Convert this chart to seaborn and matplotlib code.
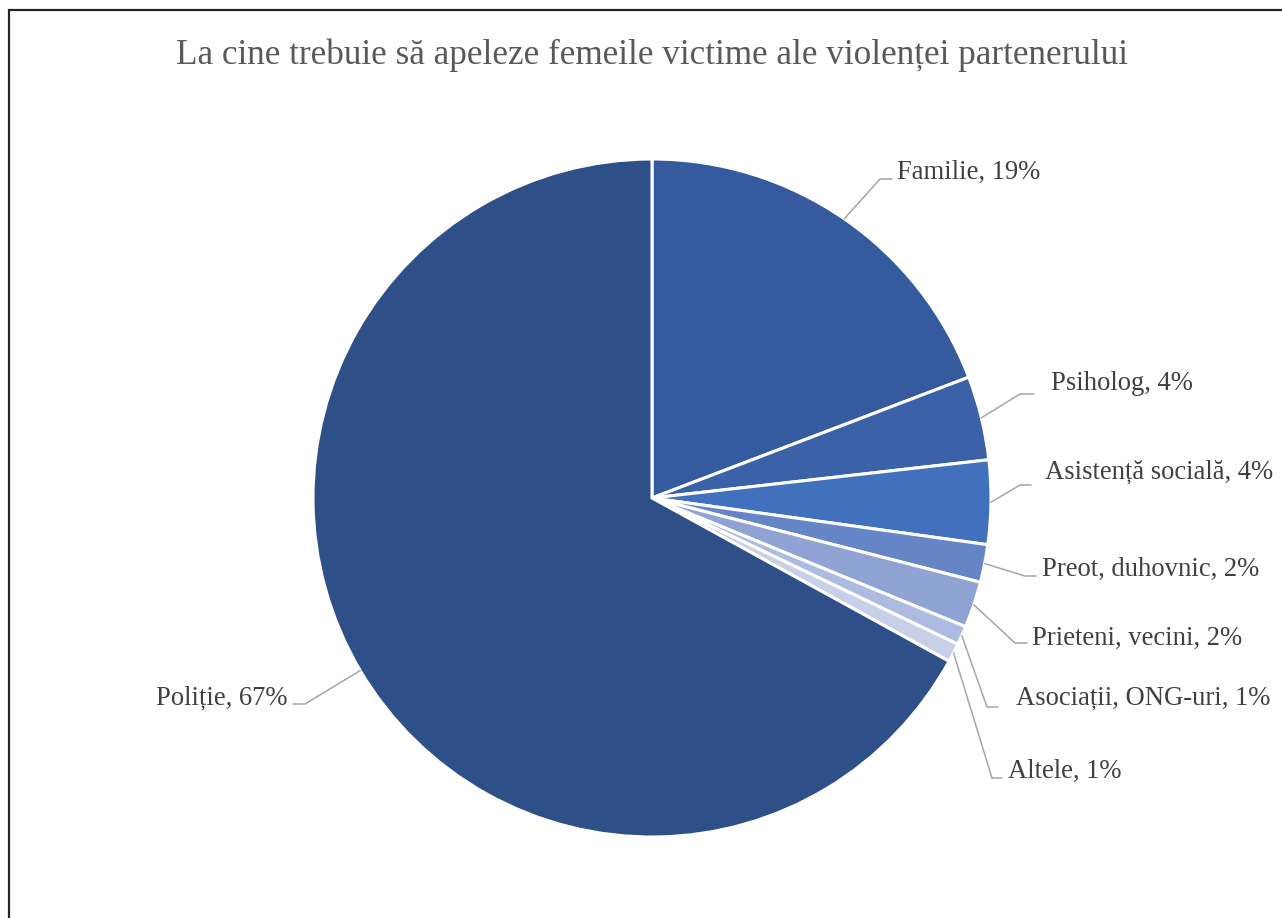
import matplotlib
matplotlib.use("Agg")
import matplotlib.pyplot as plt
import numpy as np
import pandas as pd
import seaborn as sns

# date
categorii = ['Familie', 'Psiholog', 'Asistență socială', 'Preot, duhovnic',
             'Prieteni, vecini', 'Asociații, ONG-uri', 'Altele', 'Poliție']
procente = [19.2, 4.0, 4.0, 1.8, 2.2, 0.9, 0.9, 67.0]
culori = ['#355A9E', '#3B62A9', '#4170BD', '#6585C7',
          '#8FA3D4', '#ADBBE0', '#C8D0E8', '#2E4F87']
titlu = 'La cine trebuie să apeleze femeile victime ale violenței partenerului'

df = pd.DataFrame({'categorie': categorii, 'procent': procente, 'culoare': culori})
df['eticheta'] = [f'{c}, {round(p)}%' for c, p in zip(df['categorie'], df['procent'])]

# asezarea etichetelor (pixeli): cot x, cot y, capat linie x, text x, baseline text, aliniere
W, H = 1282, 918
asezare = [
    (880, 179, 892, 897, 179, 'left'),
    (1020, 394, 1034, 1051, 390, 'left'),
    (1020, 485, 1031, 1045, 479, 'left'),
    (1025, 576, 1036, 1042, 576, 'left'),
    (1015, 643, 1027, 1032, 645, 'left'),
    (987, 707, 998, 1016, 705, 'left'),
    (992, 778, 1002, 1008, 778, 'left'),
    (305, 704, 293, 287, 705, 'right'),
]

sns.set_theme(style="white")
plt.rcParams['font.family'] = ['Liberation Serif', 'DejaVu Serif']

fig = plt.figure(figsize=(W / 100, H / 100), dpi=100)
ax = fig.add_axes([0, 0, 1, 1])

centru = (652, H - 498)
raza = 339
wedges, _ = ax.pie(df['procent'], colors=df['culoare'], startangle=90,
                   counterclock=False, center=centru, radius=raza,
                   wedgeprops=dict(edgecolor='white', linewidth=2.2))
ax.set_xlim(0, W)
ax.set_ylim(0, H)
ax.set_aspect('auto')
ax.axis('off')

gri = '#A6A6A6'
for w, et, (ex, ey, lx, tx, ty, ha) in zip(wedges, df['eticheta'], asezare):
    ang = np.deg2rad((w.theta1 + w.theta2) / 2)
    sx = centru[0] + raza * np.cos(ang)
    sy = centru[1] + raza * np.sin(ang)
    ax.plot([sx, ex, lx], [sy, H - ey, H - ey], color=gri, lw=1.1,
            solid_joinstyle='miter', clip_on=False)
    ax.text(tx, H - ty, et, ha=ha, va='baseline', fontsize=19.2, color='#404040')

ax.text(652, H - 64, titlu, ha='center', va='baseline', fontsize=25.3, color='#595959')

# chenarul (doar stanga si sus sunt vizibile)
ax.plot([9, 9, W + 5], [-5, H - 10, H - 10], color='#262626', lw=1.6,
        clip_on=False, solid_joinstyle='miter')

fig.savefig('out.png', dpi=100, facecolor='white')
